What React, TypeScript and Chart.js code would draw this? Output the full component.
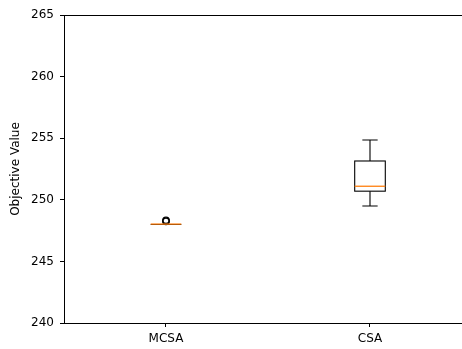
import React, { useEffect, useRef } from "react";
import { Chart, registerables } from "chart.js";

Chart.register(...registerables);

const categories = ["MCSA", "CSA"];
const positions = [1, 2];
const whiskerLow = [248.0, 249.5];
const q1 = [248.0, 250.7];
const median = [248.03, 251.1];
const q3 = [248.0, 253.15];
const whiskerHigh = [248.0, 254.85];
const outliersMCSA = [248.25, 248.33];
const yTicks = [240, 245, 250, 255, 260, 265];

const FONT = "'DejaVu Sans', sans-serif";

const boxPlugin = {
  id: "boxDraw",
  afterDatasetsDraw(chart: any) {
    const ctx = chart.ctx;
    const xs = chart.scales.x;
    const ys = chart.scales.y;
    const area = chart.chartArea;
    ctx.save();
    // top spine
    ctx.strokeStyle = "#000";
    ctx.lineWidth = 1;
    ctx.beginPath();
    ctx.moveTo(area.left, Math.round(area.top) + 0.5);
    ctx.lineTo(area.right, Math.round(area.top) + 0.5);
    ctx.stroke();
    const boxW = 0.15;
    for (let i = 0; i < positions.length; i++) {
      const p = positions[i];
      const xl = xs.getPixelForValue(p - boxW / 2);
      const xr = xs.getPixelForValue(p + boxW / 2);
      const xc = xs.getPixelForValue(p);
      const cl = xs.getPixelForValue(p - boxW / 4);
      const cr = xs.getPixelForValue(p + boxW / 4);
      const yq1 = ys.getPixelForValue(q1[i]);
      const yq3 = ys.getPixelForValue(q3[i]);
      const ylo = ys.getPixelForValue(whiskerLow[i]);
      const yhi = ys.getPixelForValue(whiskerHigh[i]);
      const ym = ys.getPixelForValue(median[i]);
      ctx.strokeStyle = "#000";
      ctx.lineWidth = 1.1;
      ctx.strokeRect(xl, yq3, xr - xl, yq1 - yq3);
      ctx.beginPath();
      ctx.moveTo(xc, yq1);
      ctx.lineTo(xc, ylo);
      ctx.moveTo(xc, yq3);
      ctx.lineTo(xc, yhi);
      ctx.moveTo(cl, ylo);
      ctx.lineTo(cr, ylo);
      ctx.moveTo(cl, yhi);
      ctx.lineTo(cr, yhi);
      ctx.stroke();
      ctx.strokeStyle = "#ff7f0e";
      ctx.lineWidth = 1.3;
      ctx.beginPath();
      ctx.moveTo(xl, ym);
      ctx.lineTo(xr, ym);
      ctx.stroke();
    }
    ctx.restore();
  },
};

export default function App() {
  const ref = useRef<HTMLCanvasElement | null>(null);
  useEffect(() => {
    document.body.style.margin = "0";
    const chart = new Chart(ref.current!, {
      type: "scatter",
      data: {
        datasets: [
          {
            data: outliersMCSA.map((v) => ({ x: positions[0], y: v })),
            pointStyle: "circle",
            pointRadius: 3.2,
            pointBorderWidth: 1.4,
            pointBorderColor: "#000",
            pointBackgroundColor: "rgba(0,0,0,0)",
            showLine: false,
          },
        ],
      },
      options: {
        animation: false,
        responsive: false,
        devicePixelRatio: 1,
        layout: { autoPadding: false, padding: { top: 15, right: 0, left: 0, bottom: 0 } },
        plugins: { legend: { display: false }, tooltip: { enabled: false } },
        scales: {
          x: {
            type: "linear",
            min: 0.5,
            max: 2.451,
            afterBuildTicks: (s: any) => {
              s.ticks = positions.map((v) => ({ value: v }));
            },
            afterFit: (s: any) => {
              s.height = 26;
            },
            ticks: {
              callback: (v: any) => {
                const i = positions.indexOf(Number(v));
                return i >= 0 ? categories[i] : "";
              },
              color: "#000",
              font: { family: FONT, size: 12 },
              padding: 5,
              maxRotation: 0,
            },
            grid: {
              display: true,
              drawOnChartArea: false,
              drawTicks: true,
              tickLength: 4,
              color: "#000",
            },
            border: { display: true, color: "#000", width: 1 },
          },
          y: {
            min: 240,
            max: 265,
            afterBuildTicks: (s: any) => {
              s.ticks = yTicks.map((v) => ({ value: v }));
            },
            afterFit: (s: any) => {
              s.width = 64;
            },
            ticks: {
              color: "#000",
              font: { family: FONT, size: 12 },
              padding: 6,
            },
            grid: {
              display: true,
              drawOnChartArea: false,
              drawTicks: true,
              tickLength: 4,
              color: "#000",
            },
            border: { display: true, color: "#000", width: 1 },
            title: {
              display: true,
              text: "Objective Value",
              color: "#000",
              font: { family: FONT, size: 12 },
              padding: { top: 9, bottom: 0 },
            },
          },
        },
      },
      plugins: [boxPlugin],
    });
    return () => chart.destroy();
  }, []);
  return (
    <div style={{ position: "absolute", left: 0, top: 0, width: 462, height: 349 }}>
      <canvas ref={ref} width={462} height={349} style={{ width: 462, height: 349 }} />
    </div>
  );
}
